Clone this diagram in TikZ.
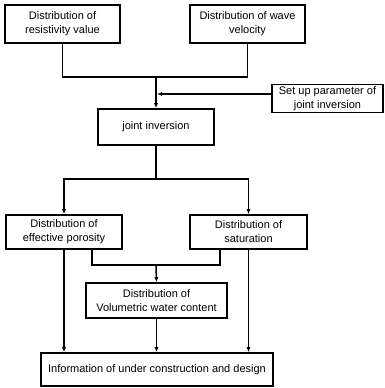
\documentclass[tikz,border=0pt]{standalone}
\usepackage{fontspec}
\setmainfont{Liberation Sans}
\usetikzlibrary{arrows.meta}
\begin{document}
\begin{tikzpicture}[x=1pt,y=-1pt,
  box/.style={draw,line width=1.6pt,align=center,inner sep=0pt,font=\fontsize{11}{14}\selectfont},
  conn/.style={line width=1.5pt},
  arr/.style={conn,-{Latex[length=5pt,width=4pt]}}]
\useasboundingbox (0,0) rectangle (385,388);
\node[box,minimum width=115pt,minimum height=38pt] (r) at (62.5,24) {Distribution of\\resistivity value};
\node[box,minimum width=115pt,minimum height=38pt] (v) at (247.5,24) {Distribution of wave\\velocity};
\node[box,minimum width=111pt,minimum height=28pt] (s) at (327.5,98.5) {Set up parameter of\\joint inversion};
\node[box,minimum width=116pt,minimum height=36pt] (j) at (156,127) {joint inversion};
\node[box,minimum width=116pt,minimum height=34pt] (p) at (64,232) {Distribution of\\effective porosity};
\node[box,minimum width=117pt,minimum height=34pt] (t) at (248.5,232) {Distribution of\\saturation};
\node[box,minimum width=141pt,minimum height=35pt] (w) at (156.5,300.5) {Distribution of\\Volumetric water content};
\node[box,minimum width=232pt,minimum height=33pt] (i) at (157,369.5) {Information of under construction and design};
% top merge
\coordinate (m1) at (156,77);
\draw[conn] (r.south) |- (m1) -| (v.south);
\draw[arr] (m1) -- (j.north);
\coordinate (sa) at (156,94);
\draw[arr] (s.west |- sa) -- ([xshift=1pt]sa);
% split
\coordinate (m2) at (156,179);
\draw[conn] (j.south) -- (m2);
\draw[arr] (m2) -| (p.north);
\draw[arr] (m2) -| (t.north);
% merge to water content
\coordinate (m3) at (156,265);
\draw[conn] ([xshift=28pt]p.south) |- (m3) -| ([xshift=-28.5pt]t.south);
\draw[arr] (m3) -- (w.north);
% to information
\draw[arr] (p.south) -- (p.south |- i.north);
\draw[arr] (t.south) -- (t.south |- i.north);
\draw[arr] (w.south) -- (w.south |- i.north);
\end{tikzpicture}
\end{document}
